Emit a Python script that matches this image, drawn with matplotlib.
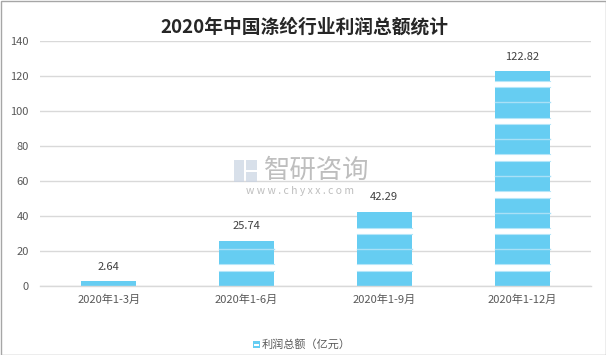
import matplotlib
matplotlib.use("Agg")
import matplotlib.pyplot as plt
from matplotlib.patches import Rectangle
import numpy as np

plt.rcParams['font.family'] = ['Noto Sans CJK SC', 'DejaVu Sans']

categories = ["2020年1-3月", "2020年1-6月", "2020年1-9月", "2020年1-12月"]
values = [2.64, 25.74, 42.29, 122.82]
value_labels = ["2.64", "25.74", "42.29", "122.82"]
yticks = [0, 20, 40, 60, 80, 100, 120, 140]
title = "2020年中国涤纶行业利润总额统计"
legend_label = "利润总额（亿元）"

bar_color = "#66CDF2"
stripe_period = 21.0
stripe_center = 10.5
stripe_half = 1.9

fig = plt.figure(figsize=(6.06, 3.55), dpi=100)
ax = fig.add_axes([40/606, 1-286/355, 551/606, (286-41.3)/355])

x = np.arange(len(categories))
width = 0.4
bars = ax.bar(x, values, width=width, color=bar_color, zorder=2, label=legend_label)

# white stripe pattern (fixed to the value axis)
for xi, v in zip(x, values):
    k = 0
    while True:
        c = stripe_center + k * stripe_period
        lo, hi = c - stripe_half, c + stripe_half
        if lo >= v:
            break
        ax.bar(xi, min(hi, v) - lo, bottom=lo, width=width, color="white", zorder=3, linewidth=0)
        ax.plot([xi - width/2, xi + width/2], [lo, lo], color="#B5E6F9", lw=0.8, zorder=3.5)
        ax.plot([xi - width/2, xi + width/2], [min(hi, v), min(hi, v)], color="#B5E6F9", lw=0.8, zorder=3.5)
        k += 1
    k = 1
    while k * stripe_period < v - 0.5:
        yy = k * stripe_period
        ax.plot([xi - width/2, xi + width/2], [yy, yy], color="#A9E0F6", lw=1.0, zorder=3.5)
        k += 1

for xi, v, lab in zip(x, values, value_labels):
    ax.annotate(lab, (xi, v), xytext=(0, 7), textcoords="offset points",
                ha="center", va="bottom", fontsize=8, color="#404040")

ax.set_ylim(0, 140)
ax.set_xlim(-0.5, len(categories) - 0.5)
ax.set_yticks(yticks)
ax.set_yticklabels([str(t) for t in yticks], fontsize=8, color="#595959")
ax.set_xticks(x)
ax.set_xticklabels(categories, fontsize=8, color="#595959")
ax.tick_params(axis="both", length=0, pad=6)
ax.tick_params(axis="y", pad=8)
ax.grid(axis="y", color="#D9D9D9", lw=1.0, zorder=0)
for s in ["top", "right", "left"]:
    ax.spines[s].set_visible(False)
ax.spines["bottom"].set_color("#D9D9D9")
ax.spines["bottom"].set_linewidth(1.0)

fig.text(304/606, 1-27/355, title, ha="center", va="center", fontsize=13.5,
         fontweight="bold", color="#262626")

# legend
fig.patches.append(Rectangle((253/606, 1-348/355), 7/606, 7/355, transform=fig.transFigure,
                             facecolor=bar_color, edgecolor="none"))
fig.patches.append(Rectangle((254/606, 1-345.5/355), 5/606, 1.5/355, transform=fig.transFigure,
                             facecolor="white", edgecolor="none"))
fig.text(262/606, 1-344.5/355, legend_label, ha="left", va="center", fontsize=8, color="#595959")

# watermark
fig.text(264/606, 1-170/355, "智研咨询", ha="left", va="center", fontsize=19,
         color="#A8A8A8", alpha=0.75)
fig.text(300/606, 1-191/355, "w w w . c h y x x . c o m", ha="center", va="center", fontsize=7.5,
         color="#A8A8A8", alpha=0.75)
for (lx, ly, lw_, lh, col) in [(234, 160, 10, 22, "#C8D3E2"), (246, 160, 11, 10, "#C8D3E2"),
                                (246, 172, 11, 10, "#C8D3E2")]:
    fig.patches.append(Rectangle((lx/606, 1-(ly+lh)/355), lw_/606, lh/355, transform=fig.transFigure,
                                 facecolor=col, edgecolor="none", alpha=0.7))

# border
fig.patches.append(Rectangle((0.5/606, 0.5/355), 605/606, 354/355, transform=fig.transFigure,
                             facecolor="none", edgecolor="#A6A6A6", lw=1.0))

fig.savefig("out.png", dpi=100)
